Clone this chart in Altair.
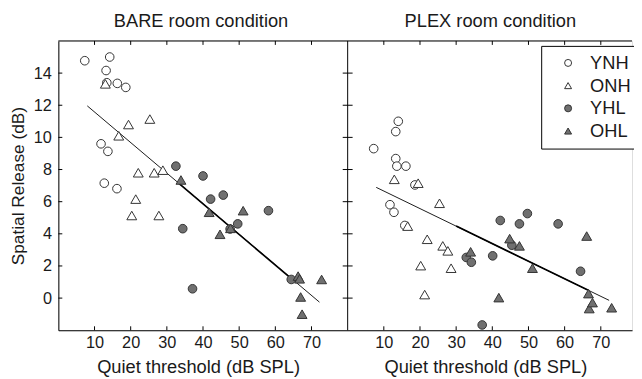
import altair as alt
import pandas as pd

groups = ["YNH", "ONH", "YHL", "OHL"]
group_shapes = ["circle", "triangle-up", "circle", "triangle-up"]
group_fills = ["white", "white", "#707070", "#707070"]
group_strokes = ["#333333", "#333333", "#333333", "#333333"]
panels = ["BARE", "PLEX"]
panel_titles = ["BARE room condition", "PLEX room condition"]
x_title = "Quiet threshold (dB SPL)"
y_title = "Spatial Release (dB)"

# BARE room condition
bare_ynh_x = [7.3, 11.8, 12.7, 13.2, 13.4, 13.7, 14.2, 16.2, 16.3, 18.65]
bare_ynh_y = [14.77, 9.6, 7.15, 14.16, 13.4, 9.13, 15.0, 6.81, 13.36, 13.11]
bare_onh_x = [13.0, 16.7, 19.4, 25.3, 22.1, 26.5, 28.9, 21.4, 20.3, 27.8]
bare_onh_y = [13.33, 10.1, 10.8, 11.14, 7.8, 7.8, 7.96, 6.16, 5.14, 5.14]
bare_yhl_x = [32.5, 34.4, 37.1, 40.0, 42.1, 45.6, 47.5, 49.6, 58.1, 64.4]
bare_yhl_y = [8.21, 4.32, 0.58, 7.6, 6.16, 6.41, 4.3, 4.62, 5.44, 1.16]
bare_ohl_x = [33.9, 41.7, 44.7, 47.6, 51.1, 66.3, 66.7, 67.0, 67.4, 72.8]
bare_ohl_y = [7.35, 5.34, 3.97, 4.34, 5.44, 1.37, 1.2, 0.07, -1.0, 1.16]
bare_fit_x = [8.0, 72.2]
bare_fit_y = [11.96, -0.25]
bare_fit_bold_x = [33.0, 65.0]
bare_fit_bold_y = [7.2, 1.1]

# PLEX room condition
plex_ynh_x = [7.2, 11.7, 12.8, 13.3, 13.3, 13.6, 14.0, 15.8, 16.1, 18.6]
plex_ynh_y = [9.3, 5.81, 5.34, 10.36, 8.68, 8.21, 11.0, 4.52, 8.21, 7.04]
plex_onh_x = [12.9, 19.5, 25.4, 16.6, 22.0, 26.3, 27.7, 20.2, 28.6, 21.3]
plex_onh_y = [7.39, 7.15, 5.9, 4.48, 3.66, 3.25, 2.94, 2.02, 1.86, 0.22]
plex_yhl_x = [32.8, 34.2, 37.2, 40.1, 42.2, 45.4, 47.5, 49.7, 58.2, 64.4]
plex_yhl_y = [2.53, 2.23, -1.67, 2.63, 4.83, 3.29, 4.62, 5.26, 4.62, 1.67]
plex_ohl_x = [34.0, 41.8, 44.8, 47.5, 51.1, 66.1, 66.6, 66.8, 67.7, 73.0]
plex_ohl_y = [2.88, 0.03, 3.70, 3.25, 1.86, 3.86, 0.28, -0.65, -0.28, -0.6]
plex_fit_x = [7.9, 72.3]
plex_fit_y = [6.89, -0.14]
plex_fit_bold_x = [30.0, 66.4]
plex_fit_bold_y = [4.48, 0.5]

x_tick_values = [10, 20, 30, 40, 50, 60, 70]
y_tick_values = [0, 2, 4, 6, 8, 10, 12, 14]
y_domain = [-2, 16]

# ---- layout ----
TEXT = "#1a1a1a"
H = 293
W_LEFT = 293
X_LEFT_MAX = 80
PX = W_LEFT / X_LEFT_MAX
W_RIGHT = 288
W = W_LEFT + W_RIGHT
SHIFT = X_LEFT_MAX
x_domain = [0, X_LEFT_MAX + W_RIGHT / PX]

rows = []
for pnl, xs_list, ys_list in [
    ("BARE", [bare_ynh_x, bare_onh_x, bare_yhl_x, bare_ohl_x], [bare_ynh_y, bare_onh_y, bare_yhl_y, bare_ohl_y]),
    ("PLEX", [plex_ynh_x, plex_onh_x, plex_yhl_x, plex_ohl_x], [plex_ynh_y, plex_onh_y, plex_yhl_y, plex_ohl_y]),
]:
    for g, xs, ys in zip(groups, xs_list, ys_list):
        for xv, yv in zip(xs, ys):
            rows.append({"panel": pnl, "group": g, "x": xv, "y": yv})
pts = pd.DataFrame(rows)

fit_rows = []
for pnl, fx, fy, kind in [("BARE", bare_fit_x, bare_fit_y, "thin"), ("PLEX", plex_fit_x, plex_fit_y, "thin"),
                          ("BARE", bare_fit_bold_x, bare_fit_bold_y, "bold"), ("PLEX", plex_fit_bold_x, plex_fit_bold_y, "bold")]:
    for xv, yv in zip(fx, fy):
        fit_rows.append({"panel": pnl, "kind": kind, "x": xv, "y": yv})
fits = pd.DataFrame(fit_rows)

ticks = pd.DataFrame([{"panel": p, "x": v} for p in panels for v in x_tick_values])
yticks = pd.DataFrame({"y": y_tick_values})
one = pd.DataFrame({"k": [0]})

shift_expr = f"datum.x + (datum.panel == 'PLEX' ? {SHIFT} : 0)"

xs = alt.Scale(domain=x_domain, nice=False, zero=False)
ys = alt.Scale(domain=y_domain, nice=False, zero=False)

x_axis = alt.Axis(values=x_tick_values + [v + SHIFT for v in x_tick_values],
                  labelExpr=f"datum.value > {SHIFT} ? datum.value - {SHIFT} : datum.value",
                  ticks=False, tickSize=0, grid=False, domain=True, domainColor="black",
                  labelFontSize=16.5, labelPadding=4, labelColor=TEXT, title=None)
y_axis = alt.Axis(values=y_tick_values, ticks=False, tickSize=0, grid=False,
                  domain=True, domainColor="black", labelFontSize=16.5,
                  labelPadding=7, labelColor=TEXT, title=y_title, titleFontSize=17.5,
                  titleFontWeight="normal", titleColor=TEXT, titleX=-40,
                  titleBaseline="middle")

legend = alt.Legend(title=None, orient="none", legendX=489, legendY=5,
                    strokeColor="black", fillColor="white", padding=8,
                    symbolOffset=10, labelOffset=13, rowPadding=4,
                    labelFontSize=18.5, labelColor=TEXT, symbolSize=50,
                    symbolStrokeWidth=1)

shape_enc = alt.Shape("group:N", scale=alt.Scale(domain=groups, range=group_shapes), legend=legend)
fill_enc = alt.Fill("group:N", scale=alt.Scale(domain=groups, range=group_fills), legend=legend)
stroke_enc = alt.Stroke("group:N", scale=alt.Scale(domain=groups, range=group_strokes), legend=legend)

base_pts = alt.Chart(pts).transform_calculate(xp=shift_expr)


def point_layer(members, size):
    return base_pts.transform_filter(
        alt.FieldOneOfPredicate(field="group", oneOf=members)
    ).mark_point(filled=True, size=size, strokeWidth=1, opacity=1).encode(
        x=alt.X("xp:Q", scale=xs, axis=x_axis),
        y=alt.Y("y:Q", scale=ys, axis=y_axis),
        shape=shape_enc, fill=fill_enc, stroke=stroke_enc,
    )


circles = point_layer(["YNH", "YHL"], 76)
triangles = point_layer(["ONH", "OHL"], 100)

base_fit = alt.Chart(fits).transform_calculate(xp=shift_expr)
thin = base_fit.transform_filter("datum.kind == 'thin'").mark_line(
    color="black", strokeWidth=0.9).encode(
    x=alt.X("xp:Q", scale=xs, axis=x_axis), y=alt.Y("y:Q", scale=ys, axis=y_axis),
    detail="panel:N")
bold = base_fit.transform_filter("datum.kind == 'bold'").mark_line(
    color="black", strokeWidth=1.7).encode(
    x=alt.X("xp:Q", scale=xs, axis=x_axis), y=alt.Y("y:Q", scale=ys, axis=y_axis),
    detail="panel:N")

base_ticks = alt.Chart(ticks).transform_calculate(xp=shift_expr)
tick_bottom = base_ticks.mark_rule(color="black").encode(
    x=alt.X("xp:Q", scale=xs, axis=x_axis), y=alt.value(H), y2=alt.value(H - 4))
tick_top = base_ticks.mark_rule(color="black").encode(
    x=alt.X("xp:Q", scale=xs, axis=x_axis), y=alt.value(0), y2=alt.value(4))

ytick_left = alt.Chart(yticks).mark_rule(color="black").encode(
    y=alt.Y("y:Q", scale=ys, axis=y_axis), x=alt.value(0), x2=alt.value(4))
ytick_mid = alt.Chart(yticks).mark_rule(color="black").encode(
    y=alt.Y("y:Q", scale=ys, axis=y_axis), x=alt.value(W_LEFT - 5), x2=alt.value(W_LEFT + 5))

top_line = alt.Chart(one).mark_rule(color="black").encode(
    x=alt.value(0), x2=alt.value(W), y=alt.value(0))
mid_line = alt.Chart(one).mark_rule(color="black").encode(
    x=alt.value(W_LEFT), y=alt.value(0), y2=alt.value(H))


def label(text, px, py, size, baseline):
    return alt.Chart(one).mark_text(text=text, fontSize=size, color=TEXT,
                                    align="center", baseline=baseline).encode(
        x=alt.value(px), y=alt.value(py))


texts = [
    label(panel_titles[0], 144.5, -14, 18.5, "alphabetic"),
    label(panel_titles[1], 437.5, -14, 18.5, "alphabetic"),
    label(x_title, 142, H + 43, 18.5, "alphabetic"),
    label(x_title, 433, H + 43, 18.5, "alphabetic"),
]

chart = alt.layer(
    thin, bold, circles, triangles, tick_bottom, tick_top, ytick_left, ytick_mid,
    top_line, mid_line, *texts
).properties(
    width=W, height=H,
    autosize=alt.AutoSizeParams(type="none"),
    padding={"left": 51, "top": 31, "right": 2, "bottom": 47},
).configure_view(stroke=None).configure(font="Liberation Sans")

chart.save("out.html", embed_options={"renderer": "svg", "actions": False})
